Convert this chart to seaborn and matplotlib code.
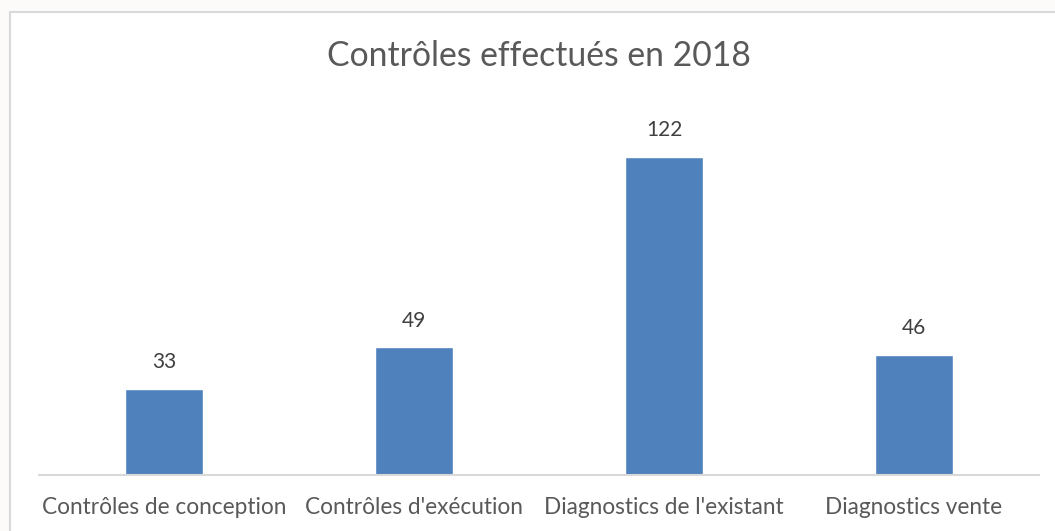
import matplotlib
matplotlib.use("Agg")
import matplotlib.pyplot as plt
import seaborn as sns
import pandas as pd
from matplotlib.patches import Rectangle

categories = ["Contrôles de conception", "Contrôles d'exécution",
              "Diagnostics de l'existant", "Diagnostics vente"]
values = [33, 49, 122, 46]
title = "Contrôles effectués en 2018"

sns.set_theme(style="white")
plt.rcParams['font.family'] = ['Lato', 'DejaVu Sans']

df = pd.DataFrame({"cat": categories, "val": values})

fig = plt.figure(figsize=(10.55, 5.31), dpi=100, facecolor="#fcfbf9")
W, H = 1055, 531
# chart area border
fig.patches.append(Rectangle((10 / W, -0.1), 1.2, 1 - 12 / H + 0.1,
                             transform=fig.transFigure, facecolor="white",
                             edgecolor="#d9d9d9", linewidth=1.5, zorder=-5))

ax = fig.add_axes([39 / W, 1 - 475 / H, 1000 / W, (475 - 110) / H])
ax.set_zorder(2)
ax.set_facecolor("none")
sns.barplot(data=df, x="cat", y="val", color="#4f81bd", width=0.312,
            saturation=1, ax=ax)
ax.set_ylim(0, 140)
ax.set_xlim(-0.5, 3.5)
for s in ["top", "right", "left"]:
    ax.spines[s].set_visible(False)
ax.spines["bottom"].set_color("#d9d9d9")
ax.spines["bottom"].set_linewidth(1.5)
ax.set_yticks([])
ax.set_xlabel("")
ax.set_ylabel("")
ax.tick_params(axis="x", length=0, pad=16, labelsize=16.3, labelcolor="#595959")
for c in ax.containers:
    ax.bar_label(c, padding=12, fontsize=15, color="#404040")
fig.text(539 / W, 1 - 56 / H, title, ha="center", va="center",
         fontsize=24.3, color="#595959", zorder=3)
fig.savefig("out.png", dpi=100, facecolor=fig.get_facecolor())
